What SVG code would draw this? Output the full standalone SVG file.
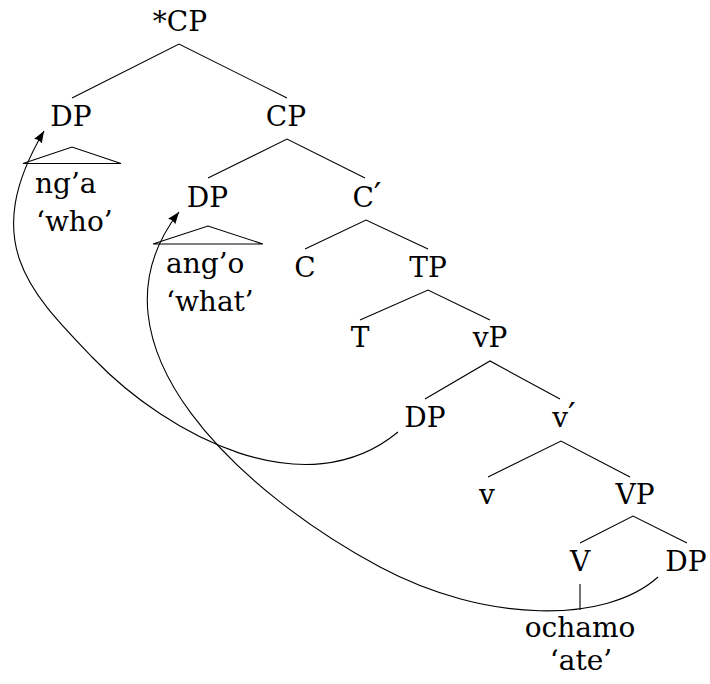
<svg xmlns="http://www.w3.org/2000/svg" width="710" height="684" viewBox="0 0 710 684">
  <style>
    text { font-family: "DejaVu Serif", serif; font-size: 28px; fill: #000; }
    .lbl { text-anchor: middle; }
    .gloss { text-anchor: start; }
    .prime { font-size: 34px; }
    .edge { stroke: #000; stroke-width: 1.1; fill: none; }
    .tri { stroke: #000; stroke-width: 1.1; fill: none; stroke-linejoin: miter; }
    .move { stroke: #000; stroke-width: 1.1; fill: none; marker-end: url(#arrow); }
  </style>
  <defs>
    <marker id="arrow" markerWidth="13" markerHeight="10" refX="12" refY="4.5" orient="auto" markerUnits="userSpaceOnUse">
      <path d="M0,0 L12,4.5 L0,9 Q2.4,4.5 0,0 z" fill="#000"/>
    </marker>
  </defs>
  <rect width="710" height="684" fill="#fff"/>

  <!-- tree edges and movement arrows -->
  <g id="connectors">
    <path class="edge" d="M72,98 L179,44 L287,98"/>
    <path class="edge" d="M208,178 L287,139 L365,178"/>
    <path class="edge" d="M305,249 L366,220 L428,249"/>
    <path class="edge" d="M360,320 L428,290 L490,320"/>
    <path class="edge" d="M425,399 L490,361 L560,399"/>
    <path class="edge" d="M488,477 L561,441 L630,477"/>
    <path class="edge" d="M580,543 L633,516 L687,543"/>
    <path class="edge" d="M580,584 L580,610"/>
    <!-- wh-movement: ng'a to the outer specifier -->
    <path class="move" d="M398,432 C306,508 169,437 93,358 C30.9,293.2 -22,242.8 44,131"/>
    <!-- wh-movement: ang'o to the inner specifier -->
    <path class="move" d="M658,577 C606.2,623.9 485.6,623.4 380,567 C248,496.5 75.3,346.3 179,212"/>
  </g>

  <g id="cp-root"><text class="lbl" x="180" y="31">*CP</text></g>

  <g id="dp-who">
    <text class="lbl" x="71" y="126">DP</text>
    <path class="tri" d="M23,163.5 L72,147 L121,163.5 Z"/>
    <text class="gloss" x="35" y="193">ng’a</text>
    <text class="gloss" x="36" y="231">‘who’</text>
  </g>

  <g id="cp"><text class="lbl" x="286" y="126">CP</text></g>

  <g id="dp-what">
    <text class="lbl" x="207.5" y="207">DP</text>
    <path class="tri" d="M153,244 L208,226 L263,244 Z"/>
    <text class="gloss" x="166" y="273">ang’o</text>
    <text class="gloss" x="166" y="311">‘what’</text>
  </g>

  <g id="c-bar"><text class="lbl" x="367" y="207">C<tspan class="prime">′</tspan></text></g>
  <g id="c"><text class="lbl" x="305" y="277">C</text></g>
  <g id="tp"><text class="lbl" x="428" y="277">TP</text></g>
  <g id="t"><text class="lbl" x="360" y="347">T</text></g>
  <g id="vp-little"><text class="lbl" x="490" y="347">vP</text></g>
  <g id="dp-spec-v"><text class="lbl" x="425" y="427">DP</text></g>
  <g id="v-bar"><text class="lbl" x="564" y="427">v<tspan class="prime">′</tspan></text></g>
  <g id="v-little"><text class="lbl" x="487" y="504">v</text></g>
  <g id="vp-big"><text class="lbl" x="635" y="504">VP</text></g>
  <g id="v-big"><text class="lbl" x="580" y="571">V</text></g>
  <g id="dp-obj"><text class="lbl" x="686" y="571">DP</text></g>
  <g id="verb">
    <text class="lbl" x="580" y="637">ochamo</text>
    <text class="lbl" x="581" y="670">‘ate’</text>
  </g>
</svg>
